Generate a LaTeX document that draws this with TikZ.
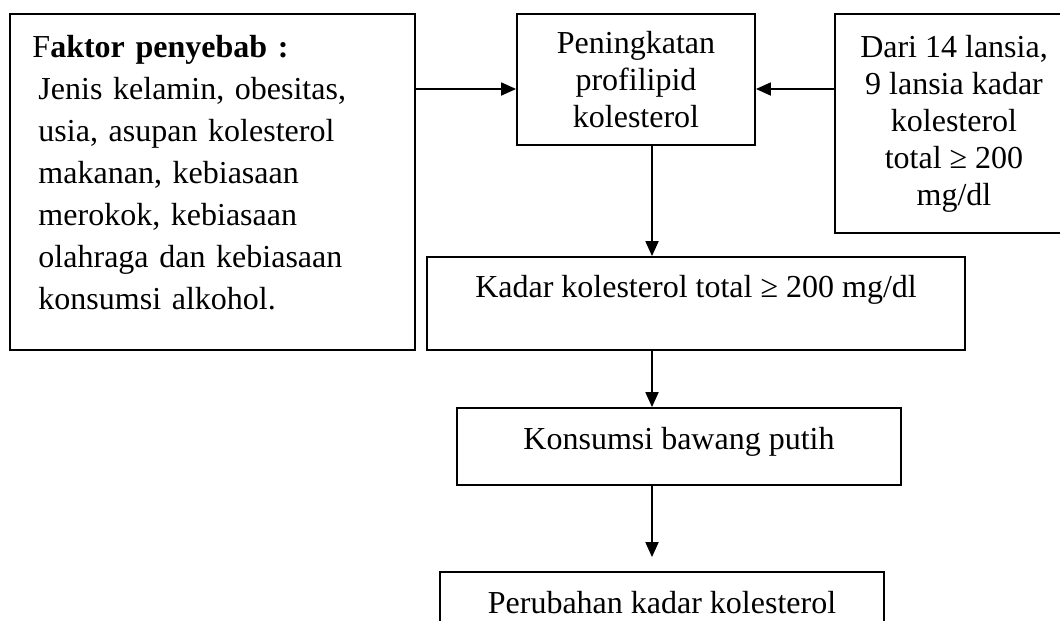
\documentclass[tikz,border=0pt]{standalone}
\usepackage{fontspec}
\setmainfont{Liberation Serif}
\usepackage{tikz}
\usetikzlibrary{arrows.meta,positioning}

\begin{document}
\begin{tikzpicture}[x=0.5pt, y=-0.5pt,
    every node/.style={font=\fontsize{16}{18.5}\selectfont},
    box/.style={draw, line width=0.9pt, inner sep=0pt, align=center},
    arr/.style={line width=0.9pt, -{Triangle[length=7.5pt, width=6.5pt]}}]
    \clip (0,0) rectangle (1060,621);
    \coordinate (spine) at (652,0);
    \coordinate (row) at (0,89);
    \node[box, minimum width=202.5pt, minimum height=168pt, inner xsep=11pt, text width=180pt, align=left, font=\fontsize{16}{21}\selectfont] (factor) at (212.5,182) {F\textbf{aktor penyebab :}\\
      \hspace*{3pt}Jenis kelamin, obesitas,\\
      \hspace*{3pt}usia, asupan kolesterol\\
      \hspace*{3pt}makanan, kebiasaan\\
      \hspace*{3pt}merokok, kebiasaan\\
      \hspace*{3pt}olahraga dan kebiasaan\\
      \hspace*{3pt}konsumsi alkohol.\\[-11pt]\mbox{}};
    \node[box, minimum width=119pt, minimum height=65.5pt] (pening) at (636,79.5) {Peningkatan\\ profilipid\\ kolesterol};
    \node[box, minimum width=119pt, minimum height=109.5pt] (datal) at (954,123.5) {Dari 14 lansia,\\ 9 lansia kadar\\ kolesterol\\ total ≥ 200\\ mg/dl};
    \node[box, minimum width=269pt, minimum height=46.5pt, text height=11pt, text depth=17.5pt] (kadar) at (696,303.5) {Kadar kolesterol total ≥ 200 mg/dl};
    \node[box, minimum width=222pt, minimum height=38.5pt, text height=11pt, text depth=8.5pt] (konsumsi) at (679,446.5) {Konsumsi bawang putih};
    \node[box, minimum width=222pt, minimum height=38.5pt, text height=11pt, text depth=8.5pt] (perubahan) at (662,610.5) {Perubahan kadar kolesterol};
    \draw[arr] (factor.east |- row) -- (pening.west |- row);
    \draw[arr] (datal.west |- row) -- (pening.east |- row);
    \draw[arr] (pening.south -| spine) -- (kadar.north -| spine);
    \draw[arr] (kadar.south -| spine) -- (konsumsi.north -| spine);
    \draw[arr, shorten >=7pt] (konsumsi.south -| spine) -- (perubahan.north -| spine);
\end{tikzpicture}
\end{document}
